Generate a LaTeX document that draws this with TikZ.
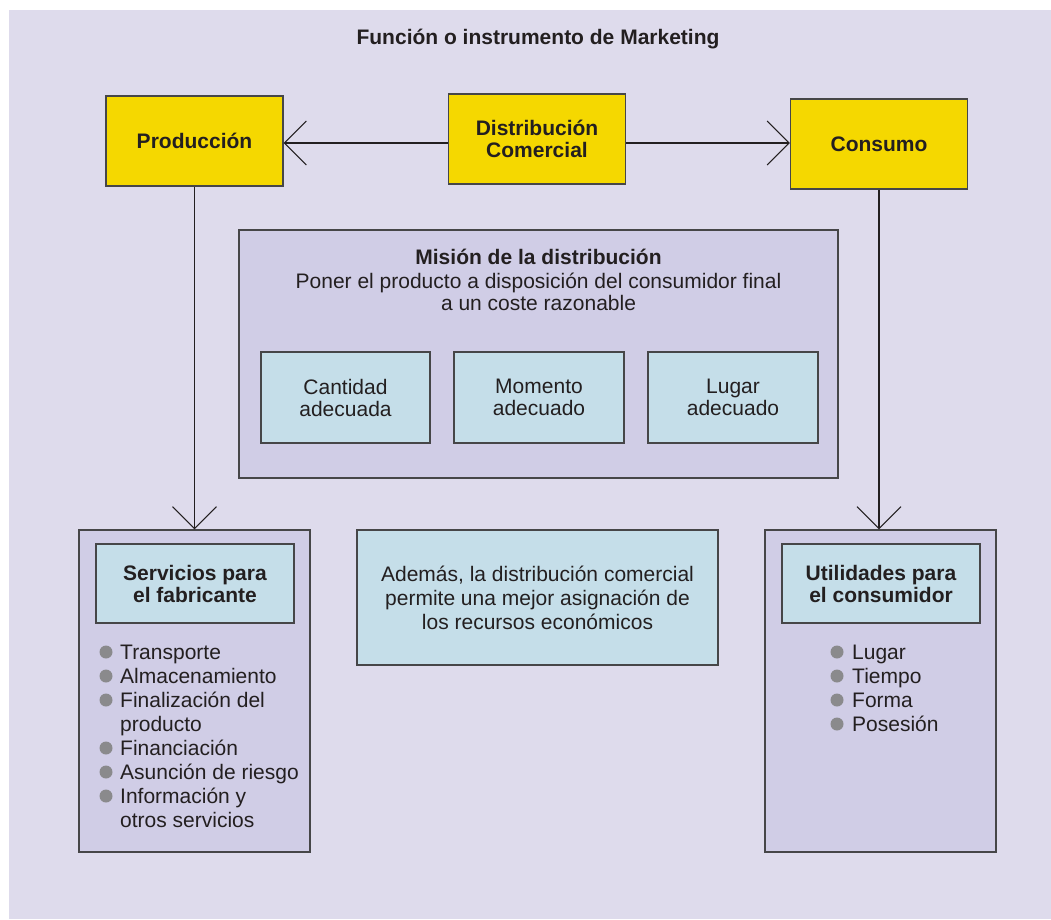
\documentclass[tikz,border=0pt]{standalone}
\usepackage{fontspec}
\setmainfont{Liberation Sans}
\usetikzlibrary{positioning,arrows.meta}
\definecolor{fondo}{RGB}{222,219,236}
\definecolor{lila}{RGB}{208,205,230}
\definecolor{amarillo}{RGB}{245,216,0}
\definecolor{celeste}{RGB}{197,222,233}
\definecolor{borde}{RGB}{70,70,72}
\definecolor{punto}{RGB}{138,138,140}
\definecolor{tinta}{RGB}{35,31,32}

\begin{document}
\begin{tikzpicture}[x=1pt,y=-1pt,inner sep=0pt,
  every node/.style={text=tinta,font=\fontsize{21}{22}\selectfont},
  caja/.style={draw=borde,line width=1.1pt,align=center},
  amarilla/.style={caja,fill=amarillo,font=\fontsize{21}{22}\selectfont\bfseries,
    minimum width=177,minimum height=90},
  marco/.style={caja,fill=lila},
  cajita/.style={caja,fill=celeste},
  lista/.style={anchor=base west,font=\fontsize{21}{24}\selectfont},
  bolita/.style={circle,fill=punto,minimum size=13},
  flecha/.style={draw=tinta,line width=1.1pt,
    -{Straight Barb[length=22pt,width=44pt,line width=1.1pt]}}]
\useasboundingbox (0,0) rectangle (1051,919);
\fill[fondo] (9,10) rectangle (1051,919);

\node[font=\fontsize{21}{22}\selectfont\bfseries] (titulo) at (538,39) {Función o instrumento de Marketing};

% cajas amarillas
\node[amarilla] (prod) at (194.5,141) {Producción};
\node[amarilla] (dist) at (537,139) {Distribución\\Comercial};
\node[amarilla] (cons) at (879,144) {Consumo};
\coordinate (eje) at (0,143);
\draw[flecha] (dist.west |- eje) -- (prod.east |- eje);
\draw[flecha] (dist.east |- eje) -- (cons.west |- eje);

% mision
\node[marco,minimum width=599,minimum height=248] (mision) at (538.5,354) {};
\node[font=\fontsize{21}{22}\selectfont\bfseries] (mtit) at (538.5,257) {Misión de la distribución};
\node[align=center] (mdesc) at (538.5,292) {Poner el producto a disposición del consumidor final\\a un coste razonable};
\node[cajita,minimum width=169,minimum height=91] (cant) at (345.5,397.5) {Cantidad\\adecuada};
\node[cajita,minimum width=170,minimum height=91] (mom) at (539,397.5) {Momento\\adecuado};
\node[cajita,minimum width=170,minimum height=91] (lug) at (733,397.5) {Lugar\\adecuado};

% servicios para el fabricante
\node[marco,minimum width=231,minimum height=322] (serv) at (194.5,691) {};
\node[cajita,minimum width=198,minimum height=79,font=\fontsize{21}{22}\selectfont\bfseries] (servtit) at (195,583.5) {Servicios para\\el fabricante};
\foreach \t/\b [count=\i] in {Transporte/1,Almacenamiento/1,Finalización del/1,producto/0,
    Financiación/1,Asunción de riesgo/1,Información y/1,otros servicios/0}{
  \node[lista] (s\i) at (120,635+24*\i) {\t};
  \ifnum\b=1 \node[bolita] (sb\i) at (106,628+24*\i) {}; \fi
}
\draw[flecha] (prod.south) -- (prod.south |- serv.north);

% ademas
\node[cajita,minimum width=361,minimum height=135,font=\fontsize{21}{24}\selectfont] (ademas) at (537.5,597.5)
  {Además, la distribución comercial\\permite una mejor asignación de\\los recursos económicos};

% utilidades para el consumidor
\node[marco,minimum width=231,minimum height=322] (util) at (880.5,691) {};
\node[cajita,minimum width=198,minimum height=79,font=\fontsize{21}{22}\selectfont\bfseries] (utiltit) at (881,583.5) {Utilidades para\\el consumidor};
\foreach \t [count=\i] in {Lugar,Tiempo,Forma,Posesión}{
  \node[lista] (u\i) at (852,635+24*\i) {\t};
  \node[bolita] (ub\i) at (837,628+24*\i) {};
}
\draw[flecha] (cons.south) -- (cons.south |- util.north);
\end{tikzpicture}
\end{document}
